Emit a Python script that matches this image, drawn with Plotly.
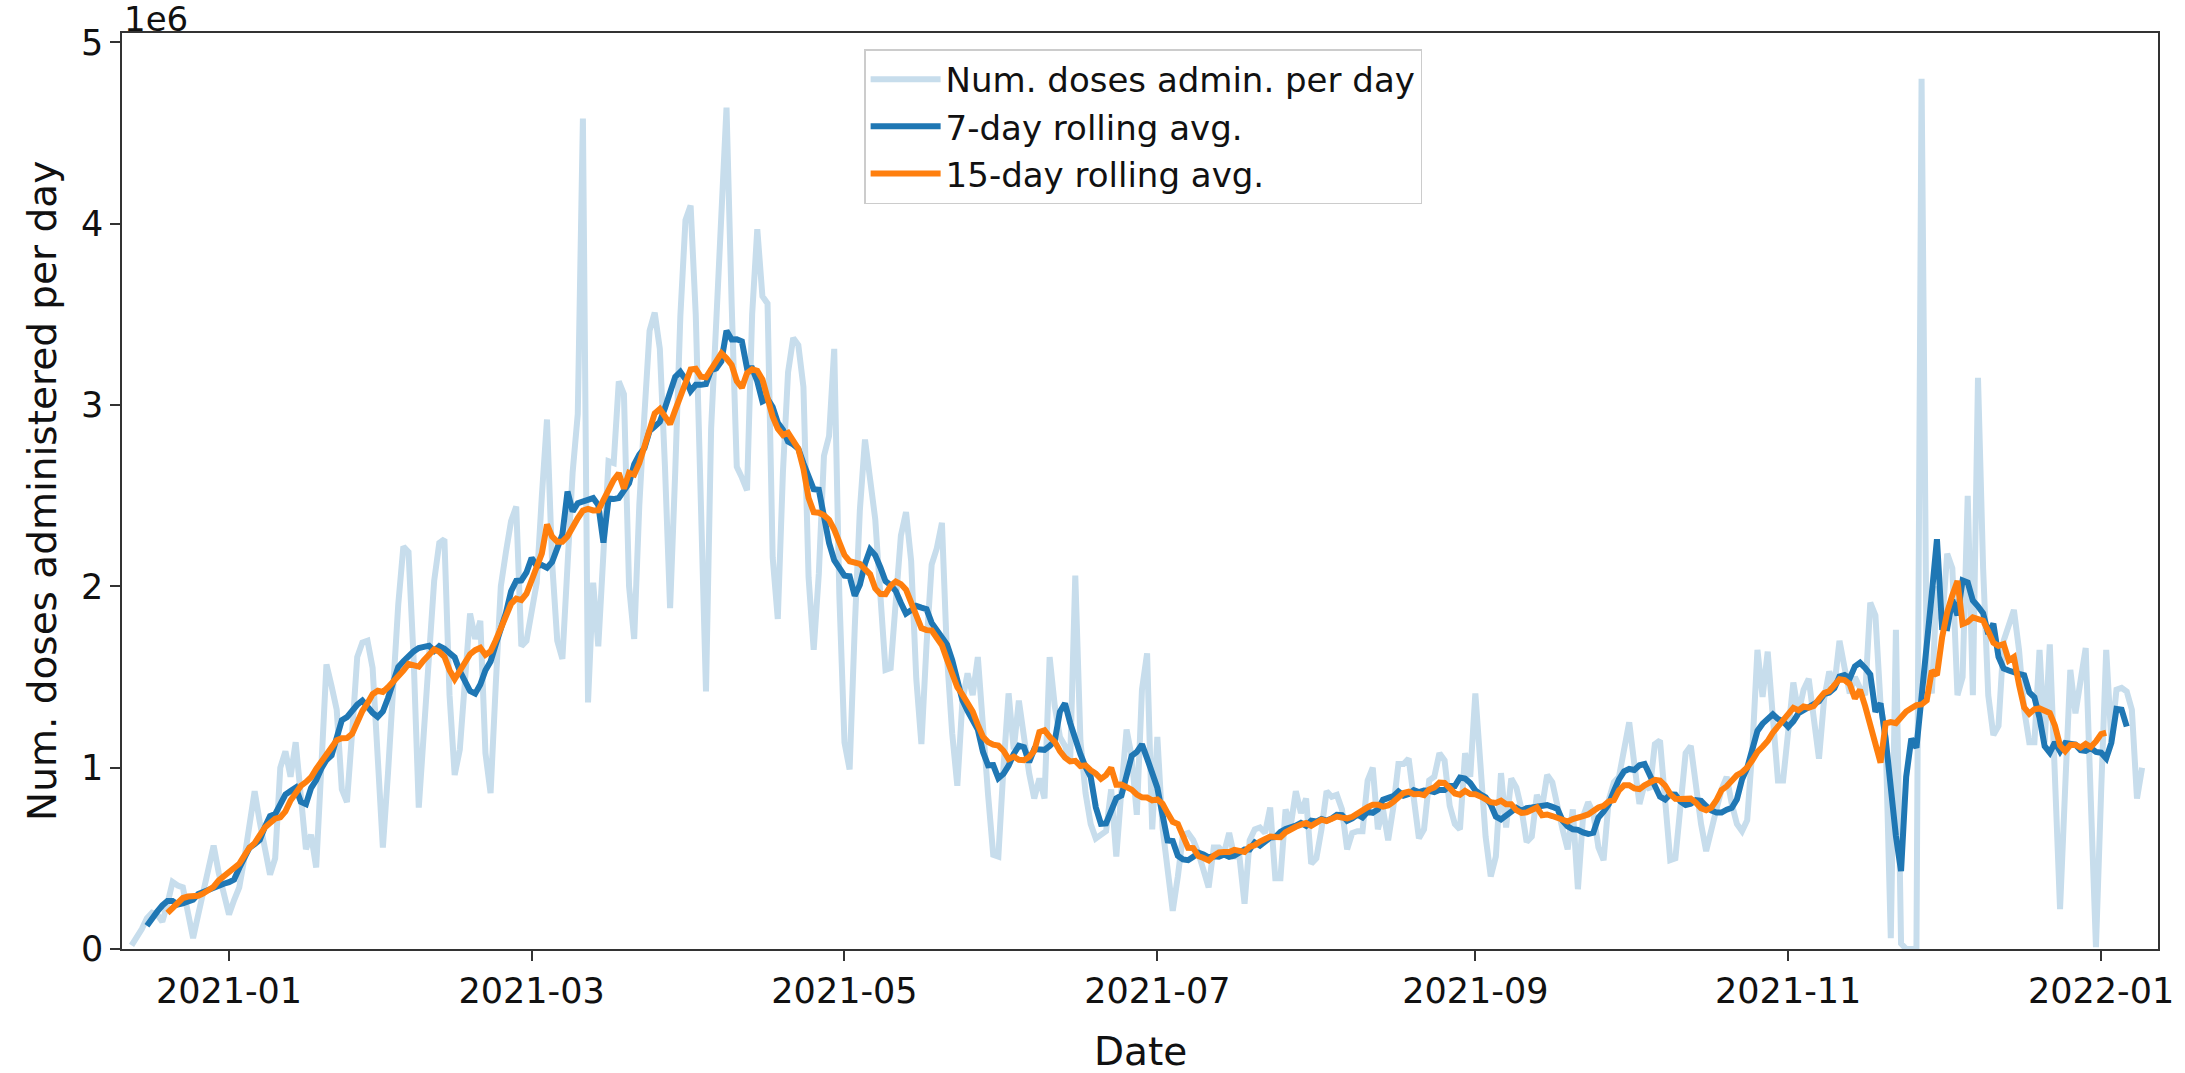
import pandas as pd
import plotly.graph_objects as go

# Daily doses administered (millions), starting 2020-12-13
start_date = "2020-12-13"
dec_2020 = [0.02, 0.06, 0.11, 0.17, 0.20, 0.19, 0.15, 0.25, 0.37, 0.35, 0.34, 0.20, 0.06, 0.19,
            0.32, 0.44, 0.57, 0.42, 0.29]
jan_2021 = [0.19, 0.27, 0.34, 0.50, 0.67, 0.87, 0.70, 0.56, 0.41, 0.50, 1.00, 1.09, 0.95, 1.14,
            0.87, 0.55, 0.63, 0.45, 1.00, 1.57, 1.45, 1.32, 0.88, 0.81, 1.19, 1.61, 1.69, 1.70,
            1.55, 1.04, 0.56]
feb_2021 = [0.97, 1.45, 1.90, 2.22, 2.19, 1.60, 0.78, 1.20, 1.60, 2.03, 2.24, 2.26, 1.40, 0.96,
            1.10, 1.45, 1.85, 1.71, 1.81, 1.08, 0.86, 1.45, 2.00, 2.19, 2.36, 2.44, 1.67, 1.70]
mar_2021 = [1.85, 2.02, 2.50, 2.92, 2.13, 1.70, 1.60, 2.07, 2.63, 2.95, 4.58, 1.36, 2.02, 1.67,
            2.14, 2.69, 2.68, 3.13, 3.06, 2.00, 1.71, 2.45, 2.95, 3.41, 3.51, 3.31, 2.66, 1.88,
            2.63, 3.49, 4.02]
apr_2021 = [4.10, 3.50, 2.38, 1.42, 2.87, 3.49, 4.05, 4.64, 3.56, 2.66, 2.60, 2.53, 3.50, 3.97,
            3.60, 3.56, 2.16, 1.82, 2.63, 3.18, 3.37, 3.33, 3.10, 2.05, 1.65, 2.07, 2.72, 2.83,
            3.31, 1.95]
may_2021 = [1.14, 0.99, 1.77, 2.42, 2.81, 2.56, 2.37, 1.95, 1.54, 1.55, 1.95, 2.28, 2.41, 2.14,
            1.49, 1.13, 1.68, 2.12, 2.21, 2.35, 1.61, 1.19, 0.90, 1.37, 1.52, 1.40, 1.61, 1.20,
            0.85, 0.52, 0.51]
jun_2021 = [1.00, 1.41, 1.10, 1.37, 1.17, 0.97, 0.83, 0.94, 0.83, 1.61, 1.34, 1.17, 1.12, 1.03,
            2.06, 1.15, 0.86, 0.69, 0.61, 0.63, 0.65, 0.88, 0.51, 0.88, 1.21, 1.06, 0.74, 1.43,
            1.63, 0.66]
jul_2021 = [1.17, 0.67, 0.45, 0.21, 0.40, 0.63, 0.64, 0.60, 0.53, 0.42, 0.34, 0.56, 0.56, 0.53,
            0.64, 0.51, 0.51, 0.25, 0.60, 0.66, 0.67, 0.64, 0.78, 0.39, 0.39, 0.77, 0.68, 0.87,
            0.75, 0.83, 0.47]
aug_2021 = [0.50, 0.66, 0.87, 0.84, 0.85, 0.77, 0.55, 0.64, 0.65, 0.65, 0.93, 1.00, 0.66, 0.77,
            0.60, 0.78, 1.02, 1.02, 1.05, 0.84, 0.61, 0.66, 0.93, 0.95, 1.08, 1.04, 0.79, 0.69,
            0.66, 1.08, 0.95]
sep_2021 = [1.41, 1.00, 0.62, 0.40, 0.51, 0.97, 0.67, 0.94, 0.89, 0.77, 0.59, 0.62, 0.85, 0.78,
            0.96, 0.92, 0.77, 0.66, 0.55, 0.77, 0.33, 0.73, 0.81, 0.75, 0.56, 0.49, 0.82, 0.92,
            0.95, 1.10]
oct_2021 = [1.25, 1.02, 0.80, 0.91, 0.88, 1.13, 1.15, 0.82, 0.49, 0.50, 0.80, 1.08, 1.12, 0.88,
            0.69, 0.54, 0.64, 0.77, 0.88, 0.95, 0.80, 0.69, 0.65, 0.71, 1.10, 1.65, 1.39, 1.64,
            1.28, 0.93, 0.93]
nov_2021 = [1.24, 1.47, 1.30, 1.43, 1.49, 1.24, 1.05, 1.38, 1.53, 1.45, 1.70, 1.55, 1.41, 1.50,
            1.44, 1.40, 1.91, 1.84, 1.35, 1.16, 0.06, 1.76, 0.03, 0.00, 0.00, 0.00, 4.80, 1.53,
            1.41, 2.00]
dec_2021 = [1.80, 2.18, 2.10, 1.40, 1.50, 2.50, 1.40, 3.15, 2.10, 1.40, 1.18, 1.23, 1.70, 1.80,
            1.87, 1.65, 1.32, 1.14, 1.14, 1.65, 1.14, 1.68, 0.86, 0.22, 0.89, 1.54, 1.30, 1.46,
            1.66, 0.82, 0.01]
jan_2022 = [0.86, 1.65, 1.15, 1.43, 1.44, 1.42, 1.32, 0.83, 1.00]

x_tick_labels = ["2021-01", "2021-03", "2021-05", "2021-07", "2021-09", "2021-11", "2022-01"]
y_tick_values = [0, 1, 2, 3, 4, 5]

series_names = ["Num. doses admin. per day", "7-day rolling avg.", "15-day rolling avg."]

months = [dec_2020, jan_2021, feb_2021, mar_2021, apr_2021, may_2021, jun_2021, jul_2021,
          aug_2021, sep_2021, oct_2021, nov_2021, dec_2021, jan_2022]
daily_millions = [v for m in months for v in m]
dates = pd.date_range(start_date, periods=len(daily_millions), freq="D")
daily = pd.Series(daily_millions, index=dates) * 1e6
roll7 = daily.rolling(7, center=True).mean()
roll15 = daily.rolling(15, center=True).mean()

FONT = "DejaVu Sans"
TXT = "#111111"
LW = 6
fig = go.Figure()
fig.add_trace(go.Scatter(x=daily.index, y=daily.values, mode="lines", name=series_names[0],
                         line=dict(color="#c7ddec", width=LW)))
fig.add_trace(go.Scatter(x=roll7.index, y=roll7.values, mode="lines", name=series_names[1],
                         line=dict(color="#1f77b4", width=LW)))
fig.add_trace(go.Scatter(x=roll15.index, y=roll15.values, mode="lines", name=series_names[2],
                         line=dict(color="#ff7f0e", width=LW)))

tick_dates = [pd.Timestamp(t + "-01") for t in x_tick_labels]
axis_common = dict(showline=True, linecolor="#333333", linewidth=1.5, mirror=True,
                   ticks="outside", ticklen=10, tickwidth=1.5, tickcolor="#333333",
                   showgrid=False, zeroline=False,
                   tickfont=dict(family=FONT, size=35, color=TXT))

fig.update_layout(
    width=2185, height=1073,
    margin=dict(l=122, r=27, t=33, b=124),
    plot_bgcolor="white", paper_bgcolor="white",
    font=dict(family=FONT, color=TXT),
    xaxis=dict(range=["2020-12-11 03:20", "2022-01-12 02:20"],
               tickvals=tick_dates, ticktext=x_tick_labels, **axis_common),
    yaxis=dict(range=[0, 5.052e6], tickvals=[v * 1e6 for v in y_tick_values],
               ticktext=[str(v) for v in y_tick_values], **axis_common),
    legend=dict(x=0.3645, y=0.9825, xanchor="left", yanchor="top", itemwidth=70,
                bgcolor="rgba(255,255,255,0.85)", bordercolor="#cccccc", borderwidth=1.5,
                font=dict(family=FONT, size=34, color=TXT), tracegroupgap=0),
    showlegend=True,
)

fig.add_annotation(text="Date", xref="paper", yref="paper", x=0.5, y=-0.112,
                   xanchor="center", yanchor="middle", showarrow=False,
                   font=dict(family=FONT, size=39, color=TXT))
fig.add_annotation(text="Num. doses administered per day", xref="paper", yref="paper",
                   x=-0.0393, y=0.5, xanchor="center", yanchor="middle", textangle=-90,
                   showarrow=False, font=dict(family=FONT, size=39, color=TXT))
fig.add_annotation(text="1e6", xref="paper", yref="paper", x=0.0, y=1.0,
                   xanchor="left", yanchor="bottom", showarrow=False, yshift=-8,
                   font=dict(family=FONT, size=34, color=TXT))

fig.write_html("out.html", config={"displayModeBar": False},
               post_script="document.body.style.margin='0';document.body.style.overflow='hidden';")
